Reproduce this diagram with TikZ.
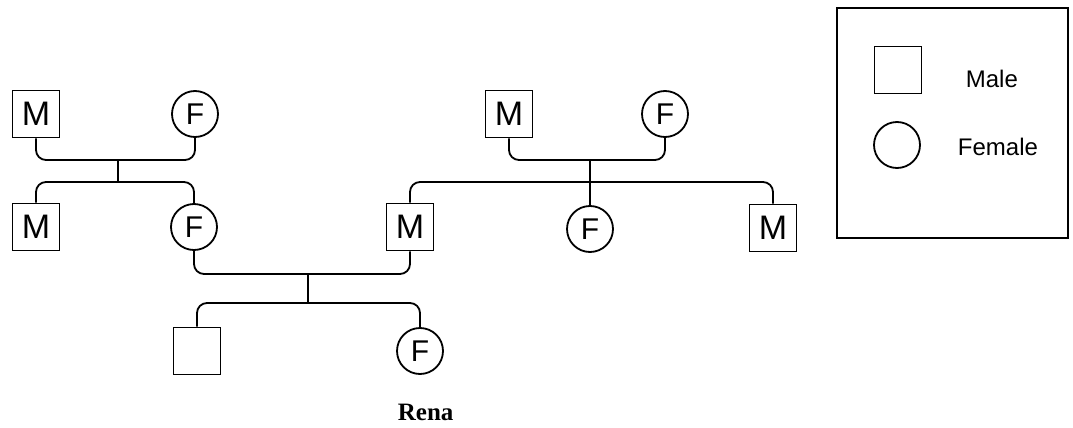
\documentclass[tikz,border=0pt]{standalone}
\usepackage{fontspec}
\setmainfont{Liberation Serif}
\setsansfont{Liberation Sans}

\begin{document}
\begin{tikzpicture}[x=1pt, y=-1pt, line width=1.8pt,
    male/.style={draw, rectangle, minimum size=47pt, inner sep=0pt, font=\sffamily\fontsize{34}{34}\selectfont},
    female/.style={draw, circle, minimum size=46pt, inner sep=0pt, font=\sffamily\fontsize{30}{30}\selectfont},
    line/.style={rounded corners=10pt},
    legendtext/.style={anchor=base west, inner sep=0pt, font=\sffamily\fontsize{24}{24}\selectfont}]
    \useasboundingbox (0,0) rectangle (1073,428);

    % people
    \foreach \n/\x/\y in {gm1/36/114, gm2/509/114, m1/36/227, m2/410/227, m3/773/228}{
        \node[male] (\n) at (\x,\y) {M};
    }
    \foreach \n/\x/\y in {gf1/195/114, gf2/665/114, f1/194/227, f2/590/229, c2/420/351}{
        \node[female] (\n) at (\x,\y) {F};
    }
    \node[male] (c1) at (197,351) {};

    % couple and sibling bars
    \coordinate (u1) at (118,160);
    \coordinate (s1) at (118,182);
    \coordinate (u2) at (590,160);
    \coordinate (s2) at (590,182);
    \coordinate (u3) at (308,274);
    \coordinate (s3) at (308,303);

    \draw[line] (gm1.south) |- (u1) -| (gf1.south);
    \draw (u1) -- (s1);
    \draw[line] (m1.north) |- (s1) -| (f1.north);

    \draw[line] (gm2.south) |- (u2) -| (gf2.south);
    \draw (u2) -- (s2);
    \draw[line] (m2.north) |- (s2) -| (m3.north);
    \draw (s2) -- (f2.north);

    \draw[line] (f1.south) |- (u3) -| (m2.south);
    \draw (u3) -- (s3);
    \draw[line] (c1.north) |- (s3) -| (c2.north);

    \node[anchor=base west, inner sep=0pt, font=\bfseries\fontsize{25}{25}\selectfont] (name) at (397,420) {Rena};

    % legend
    \node[draw, rectangle, minimum width=231pt, minimum height=230pt] (legend) at (952.5,123) {};
    \node[male] (lm) at (898,70) {};
    \node[female] (lf) at (897,145) {};
    \node[legendtext] (lmt) at (965,88) {Male};
    \node[legendtext] (lft) at (957,155) {Female};
\end{tikzpicture}
\end{document}
